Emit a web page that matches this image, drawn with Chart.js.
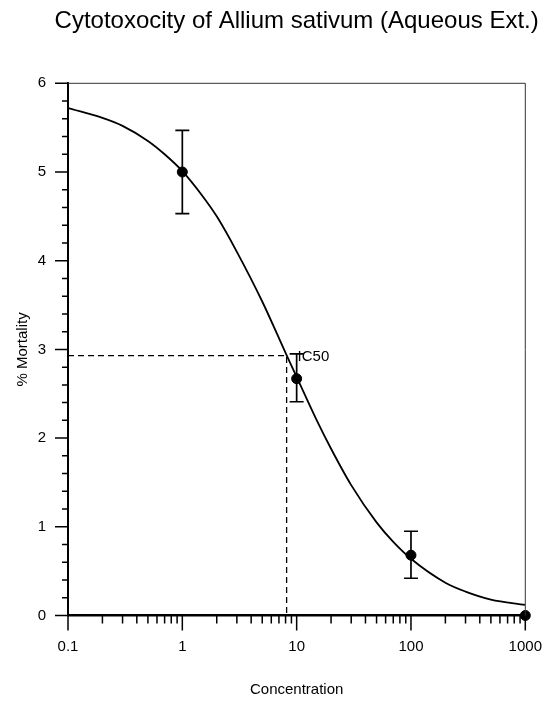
<!DOCTYPE html>
<html>
<head>
<meta charset="utf-8">
<script src="https://cdn.jsdelivr.net/npm/chart.js@4.4.1/dist/chart.umd.min.js"></script>
<style>
  html, body { margin: 0; padding: 0; background: #fff; }
  #wrap { width: 550px; height: 707px; position: relative; }
</style>
</head>
<body>
<div id="wrap"><canvas id="grafico"></canvas></div>
<script>
// measured points with error bars
const concentration = [1, 10, 100, 1000];
const mortality = [5.0, 2.67, 0.68, 0.0];
const errLow = [4.53, 2.41, 0.42, null];
const errHigh = [5.47, 2.95, 0.95, null];

// fitted curve
const curveX = [0.1, 0.2, 0.3, 0.5, 0.7, 1, 1.5, 2, 3, 5, 8.2, 10, 15, 20, 30, 50, 70, 100, 200, 300, 500, 1000];
const curveY = [5.72, 5.61, 5.52, 5.35, 5.20, 5.01, 4.73, 4.50, 4.10, 3.54, 2.93, 2.69, 2.20, 1.88, 1.47, 1.05, 0.83, 0.64, 0.37, 0.27, 0.18, 0.12];

const ic50X = 8.17;
const ic50Y = 2.93;
const ic50Label = "IC50";

// axis ticks
const xTickValues = [0.1, 1, 10, 100, 1000];
const xTickLabels = ["0.1", "1", "10", "100", "1000"];
const xMinorSteps = [2, 3, 4, 5, 6, 7, 8, 9];
const yTickLabels = ["0", "1", "2", "3", "4", "5", "6"];

const sans = "'Liberation Sans', Arial, sans-serif";

const isMajorX = (v) => xTickValues.some((t) => Math.abs(t - v) < t * 1e-6);
const isMajorY = (v) => Math.abs(v - Math.round(v)) < 1e-6;

const extras = {
  id: "extras",
  afterLayout(chart) {
    // let the title run a bit wider than the plot without squeezing it
    const t = chart.titleBlock;
    if (t) {
      t.left -= 20;
      t.right += 20;
      t.width = t.right - t.left;
    }
  },
  afterDatasetsDraw(chart) {
    const { ctx, scales: { x, y } } = chart;
    ctx.save();
    ctx.strokeStyle = "#000";
    ctx.lineWidth = 1.7;

    // error bars
    concentration.forEach((c, i) => {
      if (errLow[i] == null) return;
      const px = x.getPixelForValue(c);
      const top = y.getPixelForValue(errHigh[i]);
      const bot = y.getPixelForValue(errLow[i]);
      ctx.beginPath();
      ctx.moveTo(px, top); ctx.lineTo(px, bot);
      ctx.moveTo(px - 7, top); ctx.lineTo(px + 7, top);
      ctx.moveTo(px - 7, bot); ctx.lineTo(px + 7, bot);
      ctx.stroke();
    });

    // IC50 label
    ctx.fillStyle = "#000";
    ctx.font = "15px " + sans;
    ctx.textBaseline = "middle";
    ctx.fillText(ic50Label, x.getPixelForValue(ic50X) + 11, y.getPixelForValue(ic50Y) + 1.5);
    ctx.restore();
  },
  afterDraw(chart) {
    const { ctx, chartArea: a, scales: { x, y } } = chart;
    ctx.save();
    ctx.strokeStyle = "#000";

    // tick marks, long for labelled values
    ctx.lineWidth = 1.5;
    ctx.beginPath();
    x.ticks.forEach((t) => {
      const px = x.getPixelForValue(t.value);
      ctx.moveTo(px, a.bottom);
      ctx.lineTo(px, a.bottom + (isMajorX(t.value) ? 15 : 8));
    });
    y.ticks.forEach((t) => {
      const py = y.getPixelForValue(t.value);
      ctx.moveTo(a.left, py);
      ctx.lineTo(a.left - (isMajorY(t.value) ? 13 : 6), py);
    });
    ctx.stroke();

    // frame top and right
    ctx.lineWidth = 1;
    ctx.strokeStyle = "#333";
    ctx.beginPath();
    ctx.moveTo(a.left, a.top);
    ctx.lineTo(a.right, a.top);
    ctx.lineTo(a.right, a.bottom);
    ctx.stroke();
    ctx.restore();
  }
};

Chart.defaults.color = "#000";

new Chart(document.getElementById("grafico"), {
  type: "line",
  data: {
    datasets: [
      {
        label: "Curve",
        data: curveX.map((c, i) => ({ x: c, y: curveY[i] })),
        borderColor: "#000",
        borderWidth: 1.8,
        pointRadius: 0,
        cubicInterpolationMode: "monotone",
        fill: false
      },
      {
        label: "IC50",
        data: [
          { x: xTickValues[0], y: ic50Y },
          { x: ic50X, y: ic50Y },
          { x: ic50X, y: 0 }
        ],
        borderColor: "#000",
        borderWidth: 1.3,
        borderDash: [6, 4],
        pointRadius: 0,
        tension: 0,
        fill: false
      },
      {
        label: "% Mortality",
        data: concentration.map((c, i) => ({ x: c, y: mortality[i] })),
        showLine: false,
        pointRadius: 5,
        pointBackgroundColor: "#000",
        pointBorderColor: "#000",
        clip: false
      }
    ]
  },
  options: {
    responsive: true,
    maintainAspectRatio: false,
    animation: false,
    layout: { padding: { left: 0, right: 24.7, top: 0, bottom: 0 } },
    plugins: {
      legend: { display: false },
      tooltip: { enabled: false },
      title: {
        display: true,
        fullSize: false,
        text: "Cytotoxocity of Allium sativum (Aqueous Ext.)",
        color: "#000",
        font: { family: sans, size: 24, weight: "normal" },
        padding: { top: 6.6, bottom: 47.9 }
      }
    },
    scales: {
      x: {
        type: "logarithmic",
        min: 0.1,
        max: 1000,
        afterBuildTicks: (scale) => {
          const ticks = [];
          xTickValues.forEach((d, i) => {
            ticks.push({ value: d });
            if (i < xTickValues.length - 1) {
              xMinorSteps.forEach((m) => ticks.push({ value: Number((d * m).toPrecision(6)) }));
            }
          });
          scale.ticks = ticks;
        },
        afterFit: (scale) => { scale.height = 91.5; },
        grid: { display: false, drawTicks: true, tickLength: 22 },
        border: { display: true, color: "#000", width: 2.5 },
        ticks: {
          autoSkip: false,
          maxRotation: 0,
          padding: 0,
          color: "#000",
          font: { family: sans, size: 15 },
          callback: (v) => {
            const i = xTickValues.findIndex((t) => Math.abs(t - v) < t * 1e-6);
            return i >= 0 ? xTickLabels[i] : "";
          }
        },
        title: {
          display: true,
          text: "Concentration",
          color: "#000",
          font: { family: sans, size: 15 },
          padding: { top: 0, bottom: 8.5 }
        }
      },
      y: {
        min: 0,
        max: 6,
        afterFit: (scale) => { scale.width = 68; },
        grid: { display: false, drawTicks: true, tickLength: 22 },
        border: { display: true, color: "#000", width: 2 },
        ticks: {
          stepSize: 0.2,
          autoSkip: false,
          padding: 0,
          color: "#000",
          font: { family: sans, size: 15 },
          callback: (v) => (isMajorY(v) ? yTickLabels[Math.round(v)] : "")
        },
        title: {
          display: true,
          text: "% Mortality",
          color: "#000",
          font: { family: sans, size: 15 },
          padding: { top: 14, bottom: 0 }
        }
      }
    }
  },
  plugins: [extras]
});
</script>
</body>
</html>
